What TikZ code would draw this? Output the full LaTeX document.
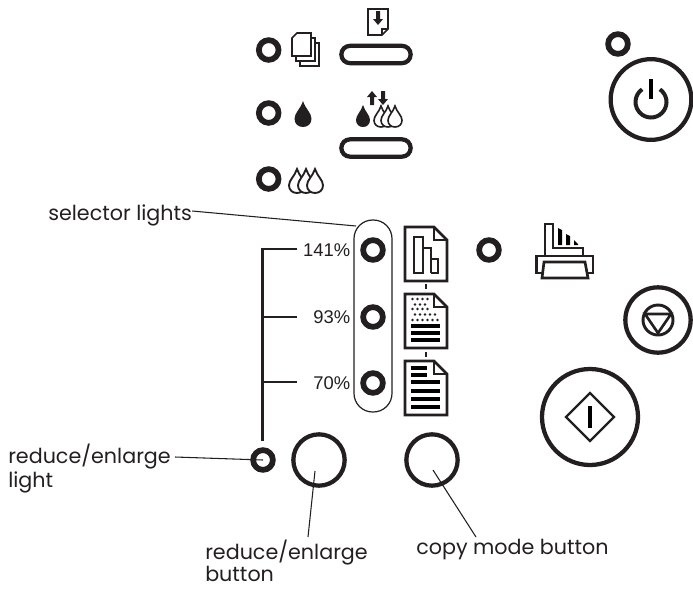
\documentclass[tikz,border=0pt]{standalone}
\usepackage{fontspec}
\setmainfont{Poppins}
\newfontfamily\pctfont{Liberation Sans}
\usetikzlibrary{positioning, calc}
\tikzset{
    led/.style = {circle, draw=ink, line width=4.3pt, inner sep=0pt, minimum size=14.8pt},
    bigbutton/.style = {circle, draw=ink, line width=3.2pt, inner sep=0pt, minimum size=#1},
    slot/.style = {draw=ink, line width=3.2pt, inner sep=0pt, minimum width=52pt, minimum height=13pt, rounded corners=6.5pt},
    oval/.style = {draw=ink, line width=0.9pt, inner sep=0pt, minimum width=28.5pt, minimum height=144pt, rounded corners=14pt},
    callout/.style = {inner sep=0pt, align=left, text=ink, font=\fontsize{15.5}{18}\selectfont},
    pctlabel/.style = {inner sep=0pt, text=ink, font=\pctfont\fontsize{13.8}{15}\selectfont},
    leader/.style = {draw=ink, line width=0.8pt},
    bracket/.style = {draw=ink, line width=1.6pt},
    outline/.style = {draw=ink, line width=#1, line join=miter},
    outline/.default = 2pt,
    sheet/.pic = {
        \draw[outline, fill=white] (0,0) -- (29,0) -- (42,13) -- (42,54) -- (0,54) -- cycle;
        \draw[outline] (29,0) -- (29,13) -- (42,13);
    },
    waterdrop/.pic = {
        \path[pic actions] (0,0) .. controls (0.14,0.3) and (0.5,0.46) .. (0.5,0.68)
            .. controls (0.5,0.88) and (0.28,1) .. (0,1)
            .. controls (-0.28,1) and (-0.5,0.88) .. (-0.5,0.68)
            .. controls (-0.5,0.46) and (-0.14,0.3) .. (0,0) -- cycle;
    },
    loose/.pic = {
        \draw[outline=1.2pt, fill=white] (-4.5,0) -- (9.5,0) -- (9.5,23) -- (-9.5,23) -- (-9.5,5) -- cycle;
    },
    downhead/.pic = {
        \fill[ink] (-2,0) -- (2,0) -- (2,8) -- (5,8) -- (0,14) -- (-5,8) -- (-2,8) -- cycle;
    },
}
\definecolor{ink}{HTML}{231F20}
\begin{document}
\begin{tikzpicture}[x=0.75pt, y=-0.75pt]
    \useasboundingbox (0,0) rectangle (693,590);

    \node (inklight1) [led] at (268.7,50) {};
    \node (inklight2) [led] at (268.7,113) {};
    \node (inklight3) [led] at (268.7,179) {};
    \node (loadslot) [slot] at (376,54.5) {};
    \node (cleanslot) [slot] at (376,148) {};

    % stack of originals
    \pic at (309.5,43) {loose};
    \pic at (305.5,38) {loose};
    \pic at (301.5,33) {loose};

    % paper feed icon
    \draw[outline=1.2pt] (368,9) -- (388,9) -- (388,29) -- (382,35) -- (368,35) -- cycle;
    \draw[outline=1.2pt] (388,29) -- (382,29) -- (382,35);
    \pic at (378,11) {downhead};

    % ink drops
    \pic[fill=ink, xscale=17, yscale=26] at (303,101) {waterdrop};
    \pic[fill=ink, xscale=14, yscale=22] at (363,105) {waterdrop};
    \foreach \dropx in {381,388,395}
        \pic[fill=white, draw=ink, line width=1.2pt, xscale=14, yscale=21] at (\dropx,106) {waterdrop};
    \foreach \dropx in {297,306,315}
        \pic[fill=white, draw=ink, line width=1.4pt, xscale=16, yscale=24] at (\dropx,169) {waterdrop};
    \pic[rotate=180] at (372,105) {downhead};
    \pic at (383,91) {downhead};

    % selector column
    \node (selector) [oval] at (373,316) {};
    \node (sel141) [led] at (373,250) {};
    \node (sel93) [led] at (373,317) {};
    \node (sel70) [led] at (373,383) {};
    \node (pct141) [pctlabel, left=7.3pt of sel141] {141\%};
    \node (pct93) [pctlabel, left=7.3pt of sel93] {93\%};
    \node (pct70) [pctlabel, left=7.3pt of sel70] {70\%};

    \pic at (405,227) {sheet};
    \pic at (405,294) {sheet};
    \pic at (405,361) {sheet};
    \draw[outline=1.6pt] (426,284) -- (426,289);
    \draw[outline=1.6pt] (426,352) -- (426,357);

    % bars on the first sheet
    \draw[outline=1.6pt] (414,273) -- (414,237) -- (423,237) -- (423,273) -- cycle;
    \draw[outline=1.6pt] (423,273) -- (423,248) -- (431,248) -- (431,273);
    \draw[outline=1.6pt] (431,273) -- (431,259) -- (438,259) -- (438,273) -- (431,273);

    % halftone on the second sheet
    \foreach \rowy/\rowx/\rown in {299/412.5/4, 304.5/415/3, 309/412.5/4, 314.5/415/5, 320/412.5/6}
        \foreach \dotn in {1,...,\rown}
            \fill[ink] ({\rowx+(\dotn-1)*5},\rowy) circle (1.3);
    \foreach \liney in {326,333,340}
        \fill[black] (411,\liney-2) rectangle (440,\liney+2);

    % text lines on the third sheet
    \foreach \liney/\lineend in {368/427, 375/427, 382/440, 391/440, 399/440, 407/440}
        \fill[black] (411,\liney-2) rectangle (\lineend,\liney+2);

    \node (modelight) [led] at (489,250) {};

    % printer
    \draw[outline, fill=white] (545,256) -- (545,224) -- (553,224) -- (553,248) -- (583,248) -- (583,256);
    \fill[black] (558,228) -- (562,230) -- (562,245) -- (558,245) -- cycle;
    \fill[black] (566,234) -- (570,236) -- (570,245) -- (566,245) -- cycle;
    \fill[black] (574,240) -- (578,244) -- (578,245) -- (574,245) -- cycle;
    \draw[outline] (536.5,256) rectangle (593,273);
    \draw[outline, fill=white] (542,278) -- (544,262) -- (585,262) -- (588,278) -- cycle;

    % power button
    \node (powerlight) [led] at (618,44) {};
    \node (power) [bigbutton=60.5pt] at (651,99.5) {};
    \draw[ink, line width=3pt] (651,102) ++(-55:15.5) arc[start angle=-55, end angle=235, radius=15.5];
    \fill[black] (649,79) rectangle (653,99);

    % stop button
    \node (stop) [bigbutton=49pt] at (658,320) {};
    \node (stopring) [circle, draw=ink, line width=2.2pt, inner sep=0pt, minimum size=22.5pt] at (658,320) {};
    \draw[outline] (645,314) -- (671,314) -- (658,333) -- cycle;

    % start button
    \node (start) [bigbutton=72pt] at (590,417) {};
    \draw[outline=1.8pt] (566,417) -- (590,393) -- (614,417) -- (590,441) -- cycle;
    \fill[black] (588.2,406) rectangle (591.8,428);

    \node (reducelight) [led] at (263,460) {};
    \node (reducebutton) [bigbutton=38.5pt] at (319,460) {};
    \node (copybutton) [bigbutton=38.5pt] at (432,460) {};

    % scale bracket
    \coordinate (bracktop) at (262.5,249);
    \coordinate (brackmid) at (262.5,317);
    \coordinate (bracklow) at (262.5,382);
    \coordinate (brackend) at (262.5,441);
    \coordinate (tick141) at (297,249);
    \coordinate (tick93) at (297,317);
    \coordinate (tick70) at (297,382);
    \draw[bracket] (tick141) -- (bracktop) -- (brackend);
    \draw[bracket] (tick93) -- (brackmid);
    \draw[bracket] (tick70) -- (bracklow);

    % callouts
    \node (selectortext) [callout, anchor=west] at (48,215) {selector lights};
    \node (lighttext) [callout, anchor=north west] at (8,444) {reduce/enlarge\\light};
    \node (buttontext) [callout, anchor=north west, text depth=0pt, font=\fontsize{15.5}{17}\selectfont] at (205,539.5) {reduce/enlarge\\button};
    \node (copytext) [callout, anchor=west] at (416,550) {copy mode button};
    \coordinate (selectortail) at ($(selectortext.east)+(0,-4)$);
    \coordinate (selectortip) at (356,226);
    \coordinate (lighttail) at (175,457);
    \coordinate (buttontail) at (308,537);
    \coordinate (buttontip) at (315,471);
    \coordinate (copytail) at (476,537);
    \coordinate (copytip) at (433,470);
    \draw[leader] (selectortail) -- (selectortip);
    \draw[leader] (lighttail) -- (reducelight.center);
    \draw[leader] (buttontail) -- (buttontip);
    \draw[leader] (copytail) -- (copytip);
\end{tikzpicture}
\end{document}
